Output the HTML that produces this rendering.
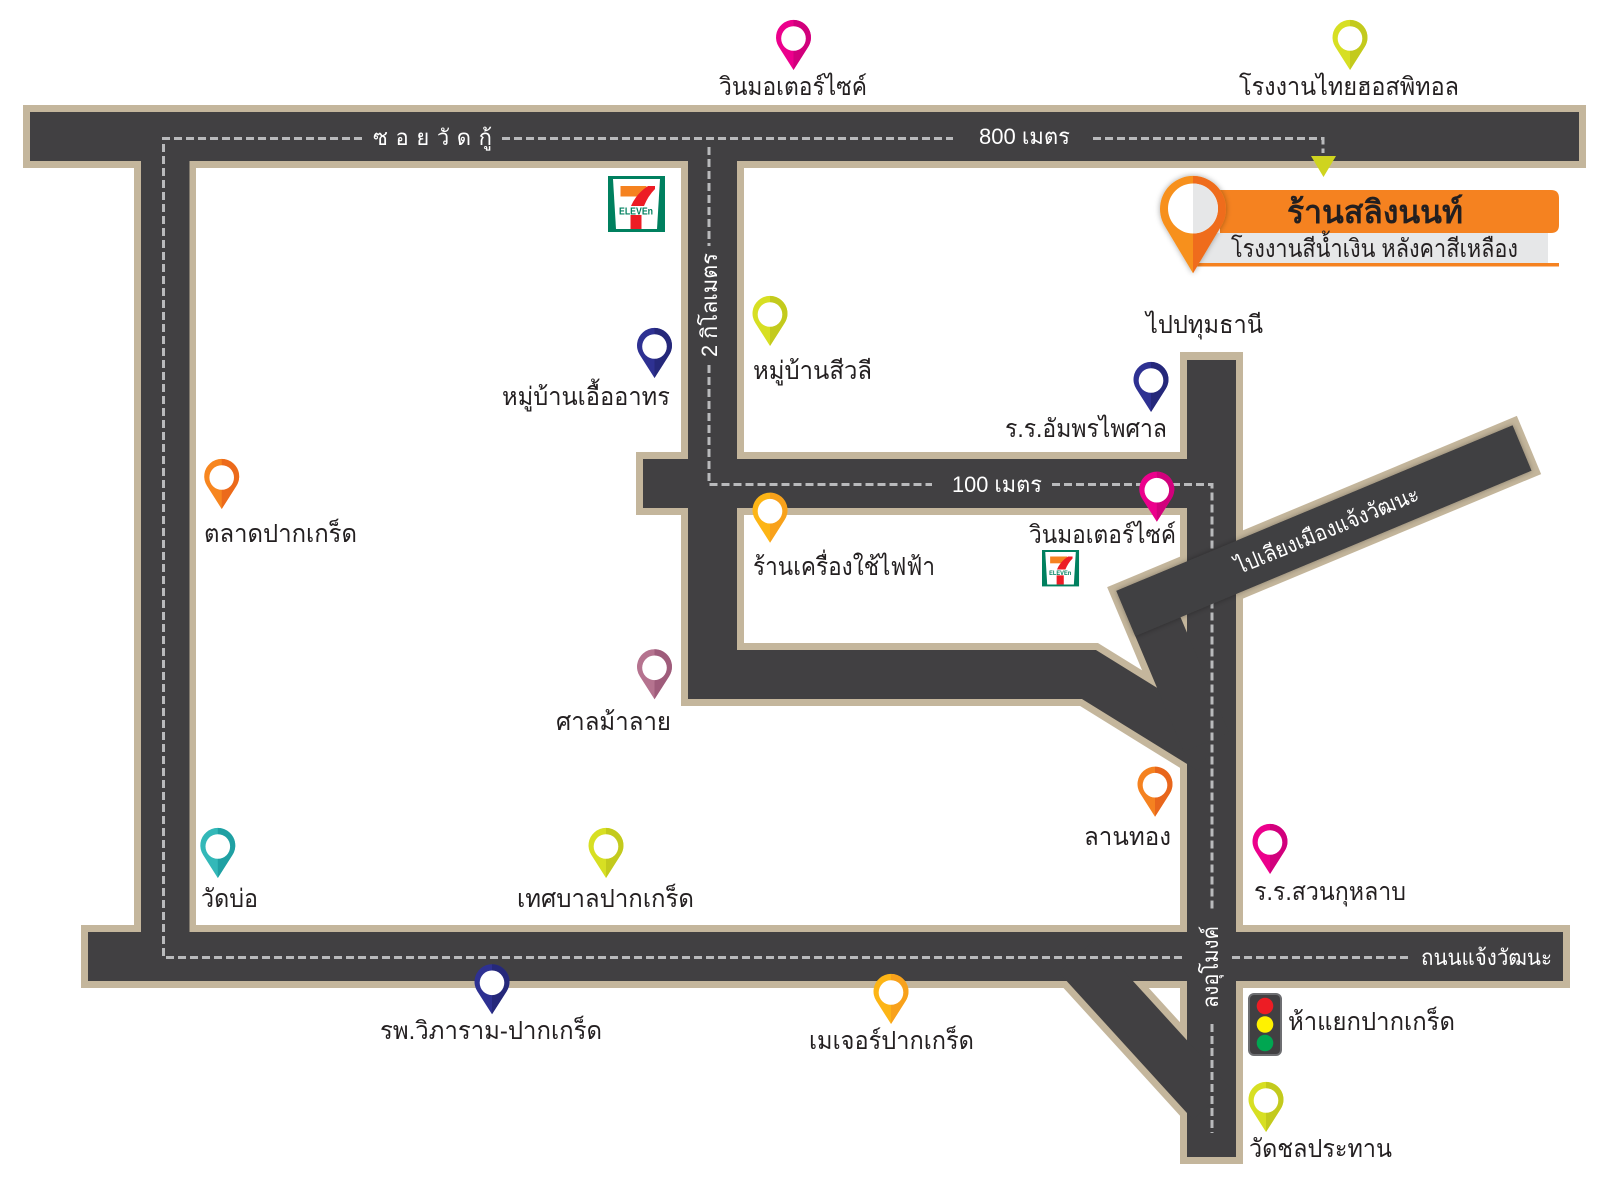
<!DOCTYPE html>
<html><head><meta charset="utf-8"><style>
html,body{margin:0;padding:0;background:#fff;}
svg{display:block;}
text{font-family:"Liberation Sans","DejaVu Sans",sans-serif;}
.lb{font-size:25px;fill:#231f20;}
.wt{font-size:22px;fill:#ffffff;}
</style></head><body>
<svg width="1600" height="1183" viewBox="0 0 1600 1183" xmlns="http://www.w3.org/2000/svg">
<defs>
<filter id="sh" x="-30%" y="-30%" width="160%" height="160%"><feDropShadow dx="0" dy="0" stdDeviation="3" flood-color="#000" flood-opacity="0.35"/></filter>
</defs>
<rect width="1600" height="1183" fill="#fff"/>

<!-- beige road borders -->
<g fill="#c4b69c">
<rect x="23" y="105" width="1563" height="63"/>
<rect x="134" y="105" width="62" height="883"/>
<rect x="81" y="925" width="1489" height="63"/>
<rect x="681" y="105" width="63" height="601"/>
<rect x="636" y="452" width="600" height="63"/>
<rect x="1180" y="352" width="63" height="812"/>
</g>
<g fill="none" stroke="#c4b69c" stroke-width="63" stroke-linejoin="miter" stroke-linecap="butt">
<path d="M681 674.5 L1089 674.5 L1211 750"/>
<path d="M1077 956 L1211 1103"/>
<path d="M1529 445 L1148.4 604 L1206.5 742.3"/>
</g>

<!-- dark asphalt -->
<g fill="#414042">
<rect x="30" y="112" width="1549" height="49"/>
<rect x="141" y="112" width="48.5" height="869"/>
<rect x="88" y="932" width="1475" height="49"/>
<rect x="688" y="112" width="49" height="587"/>
<rect x="643" y="459" width="593" height="49"/>
<rect x="1187" y="360" width="49" height="797"/>
</g>
<g fill="none" stroke="#414042" stroke-width="49" stroke-linejoin="miter" stroke-linecap="butt">
<path d="M688 674.5 L1089 674.5 L1211 750"/>
<path d="M1077 956 L1211 1103"/>
<path d="M1522 448 L1148.4 604 L1206.5 742.3"/>
</g>

<!-- dashed center lines -->
<g fill="none" stroke="#b9babc" stroke-width="3" stroke-dasharray="8 4">
<path d="M362 138.5 L163.5 138.5 L163.5 957.5 L1182 957.5"/>
<path d="M502 138.5 L953 138.5"/>
<path d="M709 147 L709 246"/>
<path d="M709 365 L709 484.5 L932 484.5"/>
<path d="M1052 484.5 L1212 484.5 L1212 912"/>
<path d="M1212 1024 L1212 1133"/>
<path d="M1093 138.5 L1323 138.5 L1323 153"/>
<path d="M1232 957.5 L1411 957.5"/>
</g>
<polygon points="1311,156 1336,156 1323.5,177" fill="#cfd41f"/>

<!-- diagonal overpass redrawn on top -->
<path d="M1522 448 L1125.8 613.5" fill="none" stroke="#414042" stroke-width="49" stroke-linecap="butt" filter="url(#sh)"/>

<!-- road labels -->
<text class="wt" x="373" y="145" textLength="119" lengthAdjust="spacing">ซอยวัดกู้</text>
<text class="wt" x="979" y="144" textLength="91" lengthAdjust="spacingAndGlyphs">800 เมตร</text>
<text class="wt" x="952" y="492" textLength="90" lengthAdjust="spacingAndGlyphs">100 เมตร</text>
<text class="wt" transform="translate(717,305) rotate(-90)" text-anchor="middle" textLength="104" lengthAdjust="spacingAndGlyphs">2 กิโลเมตร</text>
<text class="wt" transform="translate(1218,967) rotate(-90)" text-anchor="middle" textLength="82" lengthAdjust="spacingAndGlyphs">ลงอุโมงค์</text>
<text class="wt" transform="translate(1330,537) rotate(-22.3)" text-anchor="middle" textLength="196" lengthAdjust="spacingAndGlyphs">ไปเลียงเมืองแจ้งวัฒนะ</text>
<text class="wt" x="1421" y="965" textLength="131" lengthAdjust="spacingAndGlyphs">ถนนแจ้งวัฒนะ</text>

<!-- 7-eleven big -->
<g transform="translate(608,176)">
<rect width="57" height="56" fill="#00805f"/>
<path d="M5,3 H52 L49,53 H8 Z" fill="#fff"/>
<rect x="12.5" y="10" width="26" height="10.5" fill="#f58220"/>
<path d="M40,10 L47,10 L47,13 Q40,20 36,30 L23,30 Q28,18 40,10 Z" fill="#ed1c24"/>
<rect x="22.5" y="39" width="11" height="14" fill="#ed1c24"/>
<text x="11" y="38.5" font-size="10" font-weight="bold" fill="#00805f" textLength="34" lengthAdjust="spacingAndGlyphs">ELEVEn</text>
</g>
<!-- 7-eleven small -->
<g transform="translate(1042,550) scale(0.65)">
<rect width="57" height="56" fill="#00805f"/>
<path d="M5,3 H52 L49,53 H8 Z" fill="#fff"/>
<rect x="12.5" y="10" width="26" height="10.5" fill="#f58220"/>
<path d="M40,10 L47,10 L47,13 Q40,20 36,30 L23,30 Q28,18 40,10 Z" fill="#ed1c24"/>
<rect x="22.5" y="39" width="11" height="14" fill="#ed1c24"/>
<text x="11" y="38.5" font-size="10" font-weight="bold" fill="#00805f" textLength="34" lengthAdjust="spacingAndGlyphs">ELEVEn</text>
</g>

<!-- pins -->
<g transform="translate(793.5,20)"><path d="M0,50 L-14.7,26.9 A17.5,17.5 0 1 1 14.7,26.9 Z" fill="#ec008c"/><path d="M0,50 L0,0 A17.5,17.5 0 0 1 14.7,26.9 Z" fill="#d1007c"/><circle cx="0" cy="18.5" r="12.3" fill="#fff"/></g>
<g transform="translate(1350,20)"><path d="M0,50 L-14.7,26.9 A17.5,17.5 0 1 1 14.7,26.9 Z" fill="#d7df23"/><path d="M0,50 L0,0 A17.5,17.5 0 0 1 14.7,26.9 Z" fill="#c3ca1d"/><circle cx="0" cy="18.5" r="12.3" fill="#fff"/></g>
<g transform="translate(654.5,328)"><path d="M0,50 L-14.7,26.9 A17.5,17.5 0 1 1 14.7,26.9 Z" fill="#2e3192"/><path d="M0,50 L0,0 A17.5,17.5 0 0 1 14.7,26.9 Z" fill="#25287a"/><circle cx="0" cy="18.5" r="12.3" fill="#fff"/></g>
<g transform="translate(770,296)"><path d="M0,50 L-14.7,26.9 A17.5,17.5 0 1 1 14.7,26.9 Z" fill="#d7df23"/><path d="M0,50 L0,0 A17.5,17.5 0 0 1 14.7,26.9 Z" fill="#c3ca1d"/><circle cx="0" cy="18.5" r="12.3" fill="#fff"/></g>
<g transform="translate(221.7,459)"><path d="M0,50 L-14.7,26.9 A17.5,17.5 0 1 1 14.7,26.9 Z" fill="#f7861f"/><path d="M0,50 L0,0 A17.5,17.5 0 0 1 14.7,26.9 Z" fill="#ec6a1b"/><circle cx="0" cy="18.5" r="12.3" fill="#fff"/></g>
<g transform="translate(1151,362)"><path d="M0,50 L-14.7,26.9 A17.5,17.5 0 1 1 14.7,26.9 Z" fill="#2e3192"/><path d="M0,50 L0,0 A17.5,17.5 0 0 1 14.7,26.9 Z" fill="#25287a"/><circle cx="0" cy="18.5" r="12.3" fill="#fff"/></g>
<g transform="translate(770,492.7)"><path d="M0,50 L-14.7,26.9 A17.5,17.5 0 1 1 14.7,26.9 Z" fill="#fdb515"/><path d="M0,50 L0,0 A17.5,17.5 0 0 1 14.7,26.9 Z" fill="#f8a11b"/><circle cx="0" cy="18.5" r="12.3" fill="#fff"/></g>
<g transform="translate(1156.8,471.7)"><path d="M0,50 L-14.7,26.9 A17.5,17.5 0 1 1 14.7,26.9 Z" fill="#ec008c"/><path d="M0,50 L0,0 A17.5,17.5 0 0 1 14.7,26.9 Z" fill="#d1007c"/><circle cx="0" cy="18.5" r="12.3" fill="#fff"/></g>
<g transform="translate(654.5,649.3)"><path d="M0,50 L-14.7,26.9 A17.5,17.5 0 1 1 14.7,26.9 Z" fill="#b5738f"/><path d="M0,50 L0,0 A17.5,17.5 0 0 1 14.7,26.9 Z" fill="#9f5c7b"/><circle cx="0" cy="18.5" r="12.3" fill="#fff"/></g>
<g transform="translate(1155,766.7)"><path d="M0,50 L-14.7,26.9 A17.5,17.5 0 1 1 14.7,26.9 Z" fill="#f58220"/><path d="M0,50 L0,0 A17.5,17.5 0 0 1 14.7,26.9 Z" fill="#e8661c"/><circle cx="0" cy="18.5" r="12.3" fill="#fff"/></g>
<g transform="translate(1270,824)"><path d="M0,50 L-14.7,26.9 A17.5,17.5 0 1 1 14.7,26.9 Z" fill="#ec008c"/><path d="M0,50 L0,0 A17.5,17.5 0 0 1 14.7,26.9 Z" fill="#d1007c"/><circle cx="0" cy="18.5" r="12.3" fill="#fff"/></g>
<g transform="translate(217.8,828)"><path d="M0,50 L-14.7,26.9 A17.5,17.5 0 1 1 14.7,26.9 Z" fill="#33b8b8"/><path d="M0,50 L0,0 A17.5,17.5 0 0 1 14.7,26.9 Z" fill="#1fa0a3"/><circle cx="0" cy="18.5" r="12.3" fill="#fff"/></g>
<g transform="translate(606,828)"><path d="M0,50 L-14.7,26.9 A17.5,17.5 0 1 1 14.7,26.9 Z" fill="#d7df23"/><path d="M0,50 L0,0 A17.5,17.5 0 0 1 14.7,26.9 Z" fill="#c3ca1d"/><circle cx="0" cy="18.5" r="12.3" fill="#fff"/></g>
<g transform="translate(492,964.3)"><path d="M0,50 L-14.7,26.9 A17.5,17.5 0 1 1 14.7,26.9 Z" fill="#2e3192"/><path d="M0,50 L0,0 A17.5,17.5 0 0 1 14.7,26.9 Z" fill="#25287a"/><circle cx="0" cy="18.5" r="12.3" fill="#fff"/></g>
<g transform="translate(891,974)"><path d="M0,50 L-14.7,26.9 A17.5,17.5 0 1 1 14.7,26.9 Z" fill="#fdb515"/><path d="M0,50 L0,0 A17.5,17.5 0 0 1 14.7,26.9 Z" fill="#f8a11b"/><circle cx="0" cy="18.5" r="12.3" fill="#fff"/></g>
<g transform="translate(1266,1082)"><path d="M0,50 L-14.7,26.9 A17.5,17.5 0 1 1 14.7,26.9 Z" fill="#d7df23"/><path d="M0,50 L0,0 A17.5,17.5 0 0 1 14.7,26.9 Z" fill="#c3ca1d"/><circle cx="0" cy="18.5" r="12.3" fill="#fff"/></g>

<!-- traffic light -->
<rect x="1249" y="994" width="32" height="61" rx="5" fill="#414042" stroke="#6d6e71" stroke-width="2"/>
<circle cx="1265" cy="1006" r="8.3" fill="#ed1c24"/>
<circle cx="1265" cy="1024.5" r="8.3" fill="#fff200"/>
<circle cx="1265" cy="1043" r="8.3" fill="#00a651"/>

<!-- place labels -->
<text class="lb" x="719" y="95" textLength="148" lengthAdjust="spacingAndGlyphs">วินมอเตอร์ไซค์</text>
<text class="lb" x="1239" y="95" textLength="220" lengthAdjust="spacingAndGlyphs">โรงงานไทยฮอสพิทอล</text>
<text class="lb" x="502" y="405" textLength="168" lengthAdjust="spacingAndGlyphs">หมู่บ้านเอื้ออาทร</text>
<text class="lb" x="753" y="379" textLength="119" lengthAdjust="spacingAndGlyphs">หมู่บ้านสีวลี</text>
<text class="lb" x="204" y="542" textLength="153" lengthAdjust="spacingAndGlyphs">ตลาดปากเกร็ด</text>
<text class="lb" x="1005" y="437" textLength="162" lengthAdjust="spacingAndGlyphs">ร.ร.อัมพรไพศาล</text>
<text class="lb" x="753" y="575" textLength="182" lengthAdjust="spacingAndGlyphs">ร้านเครื่องใช้ไฟฟ้า</text>
<text class="lb" x="1029" y="543" textLength="147" lengthAdjust="spacingAndGlyphs">วินมอเตอร์ไซค์</text>
<text class="lb" x="556" y="730" textLength="115" lengthAdjust="spacingAndGlyphs">ศาลม้าลาย</text>
<text class="lb" x="1084" y="845" textLength="87" lengthAdjust="spacingAndGlyphs">ลานทอง</text>
<text class="lb" x="1254" y="900" textLength="152" lengthAdjust="spacingAndGlyphs">ร.ร.สวนกุหลาบ</text>
<text class="lb" x="201" y="907" textLength="57" lengthAdjust="spacingAndGlyphs">วัดบ่อ</text>
<text class="lb" x="517" y="907" textLength="177" lengthAdjust="spacingAndGlyphs">เทศบาลปากเกร็ด</text>
<text class="lb" x="380" y="1039" textLength="222" lengthAdjust="spacingAndGlyphs">รพ.วิภาราม-ปากเกร็ด</text>
<text class="lb" x="809" y="1049" textLength="165" lengthAdjust="spacingAndGlyphs">เมเจอร์ปากเกร็ด</text>
<text class="lb" x="1288" y="1030" textLength="167" lengthAdjust="spacingAndGlyphs">ห้าแยกปากเกร็ด</text>
<text class="lb" x="1249" y="1157" textLength="143" lengthAdjust="spacingAndGlyphs">วัดชลประทาน</text>
<text class="lb" x="1146" y="333" textLength="117" lengthAdjust="spacingAndGlyphs">ไปปทุมธานี</text>

<!-- shop header -->
<path d="M1220,190 H1551 Q1559,190 1559,198 V225 Q1559,233 1551,233 H1220 Z" fill="#f58220"/>
<rect x="1200" y="233" width="348" height="30" fill="#e6e7e8"/>
<rect x="1197" y="263" width="362" height="3.5" fill="#f58220"/>
<text x="1287" y="223" font-size="32" font-weight="bold" fill="#231f20" textLength="176" lengthAdjust="spacingAndGlyphs">ร้านสลิงนนท์</text>
<text x="1231" y="257" font-size="25" fill="#231f20" textLength="287" lengthAdjust="spacingAndGlyphs">โรงงานสีน้ำเงิน หลังคาสีเหลือง</text>
<g filter="url(#sh)">
<path d="M1193,273.3 L1164.7,225.9 A33,33 0 1 1 1221.3,225.9 Z" fill="#f7901e"/>
</g>
<path d="M1193,273.3 L1193,176 A33,33 0 0 1 1221.3,225.9 Z" fill="#ef6c1c"/>
<circle cx="1193" cy="208.5" r="25" fill="#fff"/>
<path d="M1193,183.5 A25,25 0 0 1 1193,233.5 Z" fill="#e6e7e8"/>
</svg>
</body></html>
